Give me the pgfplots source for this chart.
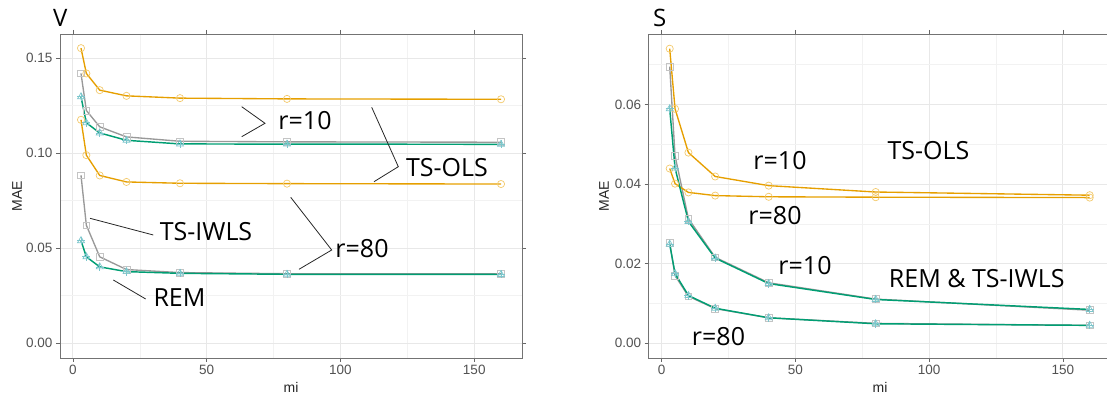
\documentclass[border=0pt]{standalone}
\usepackage{pgfplots}
\pgfplotsset{compat=1.18}
\usepackage{fontspec}
\setmainfont{Liberation Sans}
\newfontfamily\annot{Open Sans}
\definecolor{cor}{HTML}{E69F00}
\definecolor{corm}{HTML}{F3C96B}
\definecolor{cte}{HTML}{009E73}
\definecolor{ctem}{HTML}{7CC6CC}
\definecolor{cgr}{HTML}{999999}
\definecolor{cgrm}{HTML}{C4C4C4}
\pgfplotsset{
  mystyle/.style={
    scale only axis, width=462pt, height=324pt,
    xmin=-4.85, xmax=167.85,
    xtick={0,50,100,150}, minor xtick={25,75,125},
    grid=both,
    major grid style={color=black!9, line width=1pt},
    minor grid style={color=black!5, line width=0.7pt},
    axis line style={color=black!55, line width=0.8pt},
    tick align=outside, major tick length=4pt, minor tick length=0pt,
    tick style={color=black!60, line width=0.7pt},
    tick label style={font=\fontsize{13.5}{13.5}\selectfont, color=black!68},
    /pgf/number format/assume math mode=true,
    yticklabel style={/pgf/number format/.cd, fixed, fixed zerofill, precision=2},
    scaled y ticks=false,
    clip=false,
  },
  lor/.style={color=cor, line width=1.35pt, mark=o, mark size=3.6pt, mark options={draw=corm, line width=0.7pt}},
  lgr/.style={color=cgr, line width=1.35pt, mark=square, mark size=3.4pt, mark options={draw=cgrm, line width=0.7pt}},
  lte/.style={color=cte, line width=1.45pt, mark=triangle, mark size=4pt, mark options={draw=ctem, line width=0.7pt}},
  mte/.style={only marks, mark=+, mark size=4pt, mark options={draw=ctem, line width=0.7pt}},
}
\begin{document}
\begin{tikzpicture}[x=1pt,y=1pt]
\useasboundingbox (0,0) rectangle (1107,398);
% ---------------- Left panel V
\begin{axis}[mystyle, at={(60pt,40pt)}, anchor=south west,
  ymin=-0.00775, ymax=0.16275,
  ytick={0,0.05,0.10,0.15}, minor ytick={0.025,0.075,0.125}]
\addplot[lgr] coordinates {(3,0.142)(5,0.1225)(10,0.1139)(20,0.1086)(40,0.1063)(80,0.1060)(160,0.1058)};
\addplot[lgr] coordinates {(3,0.0884)(5,0.0621)(10,0.0455)(20,0.0388)(40,0.0372)(80,0.0366)(160,0.0366)};
\addplot[lor] coordinates {(3,0.1553)(5,0.142)(10,0.1332)(20,0.1302)(40,0.1290)(80,0.1286)(160,0.1284)};
\addplot[lor] coordinates {(3,0.1176)(5,0.099)(10,0.0883)(20,0.0849)(40,0.0842)(80,0.0840)(160,0.0838)};
\addplot[lte] coordinates {(3,0.1297)(5,0.116)(10,0.1107)(20,0.1068)(40,0.1049)(80,0.1048)(160,0.1047)};
\addplot[mte] coordinates {(3,0.1297)(5,0.116)(10,0.1107)(20,0.1068)(40,0.1049)(80,0.1048)(160,0.1047)};
\addplot[lte] coordinates {(3,0.054)(5,0.0455)(10,0.0402)(20,0.0377)(40,0.0368)(80,0.0363)(160,0.0362)};
\addplot[mte] coordinates {(3,0.054)(5,0.0455)(10,0.0402)(20,0.0377)(40,0.0368)(80,0.0363)(160,0.0362)};
\end{axis}
% ---------------- Right panel S
\begin{axis}[mystyle, at={(648.7pt,40pt)}, anchor=south west,
  ymin=-0.0037, ymax=0.0777,
  ytick={0,0.02,0.04,0.06}, minor ytick={0.01,0.03,0.05,0.07}]
\addplot[lgr] coordinates {(3,0.0695)(5,0.0471)(10,0.0313)(20,0.0216)(40,0.0152)(80,0.0111)(160,0.0083)};
\addplot[lgr] coordinates {(3,0.0252)(5,0.0170)(10,0.0118)(20,0.0087)(40,0.0064)(80,0.0050)(160,0.0045)};
\addplot[lor] coordinates {(3,0.0740)(5,0.0589)(10,0.0479)(20,0.0419)(40,0.0396)(80,0.0380)(160,0.0372)};
\addplot[lor] coordinates {(3,0.0439)(5,0.0401)(10,0.0379)(20,0.0371)(40,0.0368)(80,0.0367)(160,0.0366)};
\addplot[lte] coordinates {(3,0.0589)(5,0.0440)(10,0.0306)(20,0.0214)(40,0.0150)(80,0.0110)(160,0.0085)};
\addplot[mte] coordinates {(3,0.0589)(5,0.0440)(10,0.0306)(20,0.0214)(40,0.0150)(80,0.0110)(160,0.0085)};
\addplot[lte] coordinates {(3,0.0249)(5,0.0175)(10,0.0120)(20,0.0088)(40,0.0064)(80,0.0049)(160,0.0045)};
\addplot[mte] coordinates {(3,0.0249)(5,0.0175)(10,0.0120)(20,0.0088)(40,0.0064)(80,0.0049)(160,0.0045)};
\end{axis}
% titles and axis labels
\node[anchor=base west, inner sep=0, font=\annot\fontsize{24}{24}\selectfont] at (53,371) {V};
\node[anchor=base west, inner sep=0, font=\annot\fontsize{24}{24}\selectfont] at (653,371) {S};
\node[rotate=90, font=\fontsize{14}{14}\selectfont, color=black!85] at (17,202) {MAE};
\node[rotate=90, font=\fontsize{14}{14}\selectfont, color=black!85] at (604,202) {MAE};
\node[font=\fontsize{14}{14}\selectfont, color=black!85] at (291,11) {mi};
\node[font=\fontsize{14}{14}\selectfont, color=black!85] at (880,11) {mi};
% annotations
\begin{scope}[line width=0.8pt, color=black!85]
\draw (241.7,291.3)--(265,274.7)--(241.7,261.3);
\draw (371.7,290.7)--(398.3,231.3)--(374,216.3);
\draw (290.7,200.7)--(331.7,148)--(299,128.7);
\draw (90,179.7)--(153.3,163);
\draw (113.3,118)--(145.7,99);
\end{scope}
\begin{scope}[every node/.style={inner sep=0, font=\annot\fontsize{25}{25}\selectfont}]
\node at (305,277) {r=10};
\node at (447,230) {TS-OLS};
\node at (362,149) {r=80};
\node at (206,166) {TS-IWLS};
\node at (179.5,100) {REM};
\node at (780,237) {r=10};
\node at (928.5,247) {TS-OLS};
\node at (775,182.5) {r=80};
\node at (805,132) {r=10};
\node at (976.7,119) {REM \& TS-IWLS};
\node at (718.5,61) {r=80};
\end{scope}
\end{tikzpicture}
\end{document}
